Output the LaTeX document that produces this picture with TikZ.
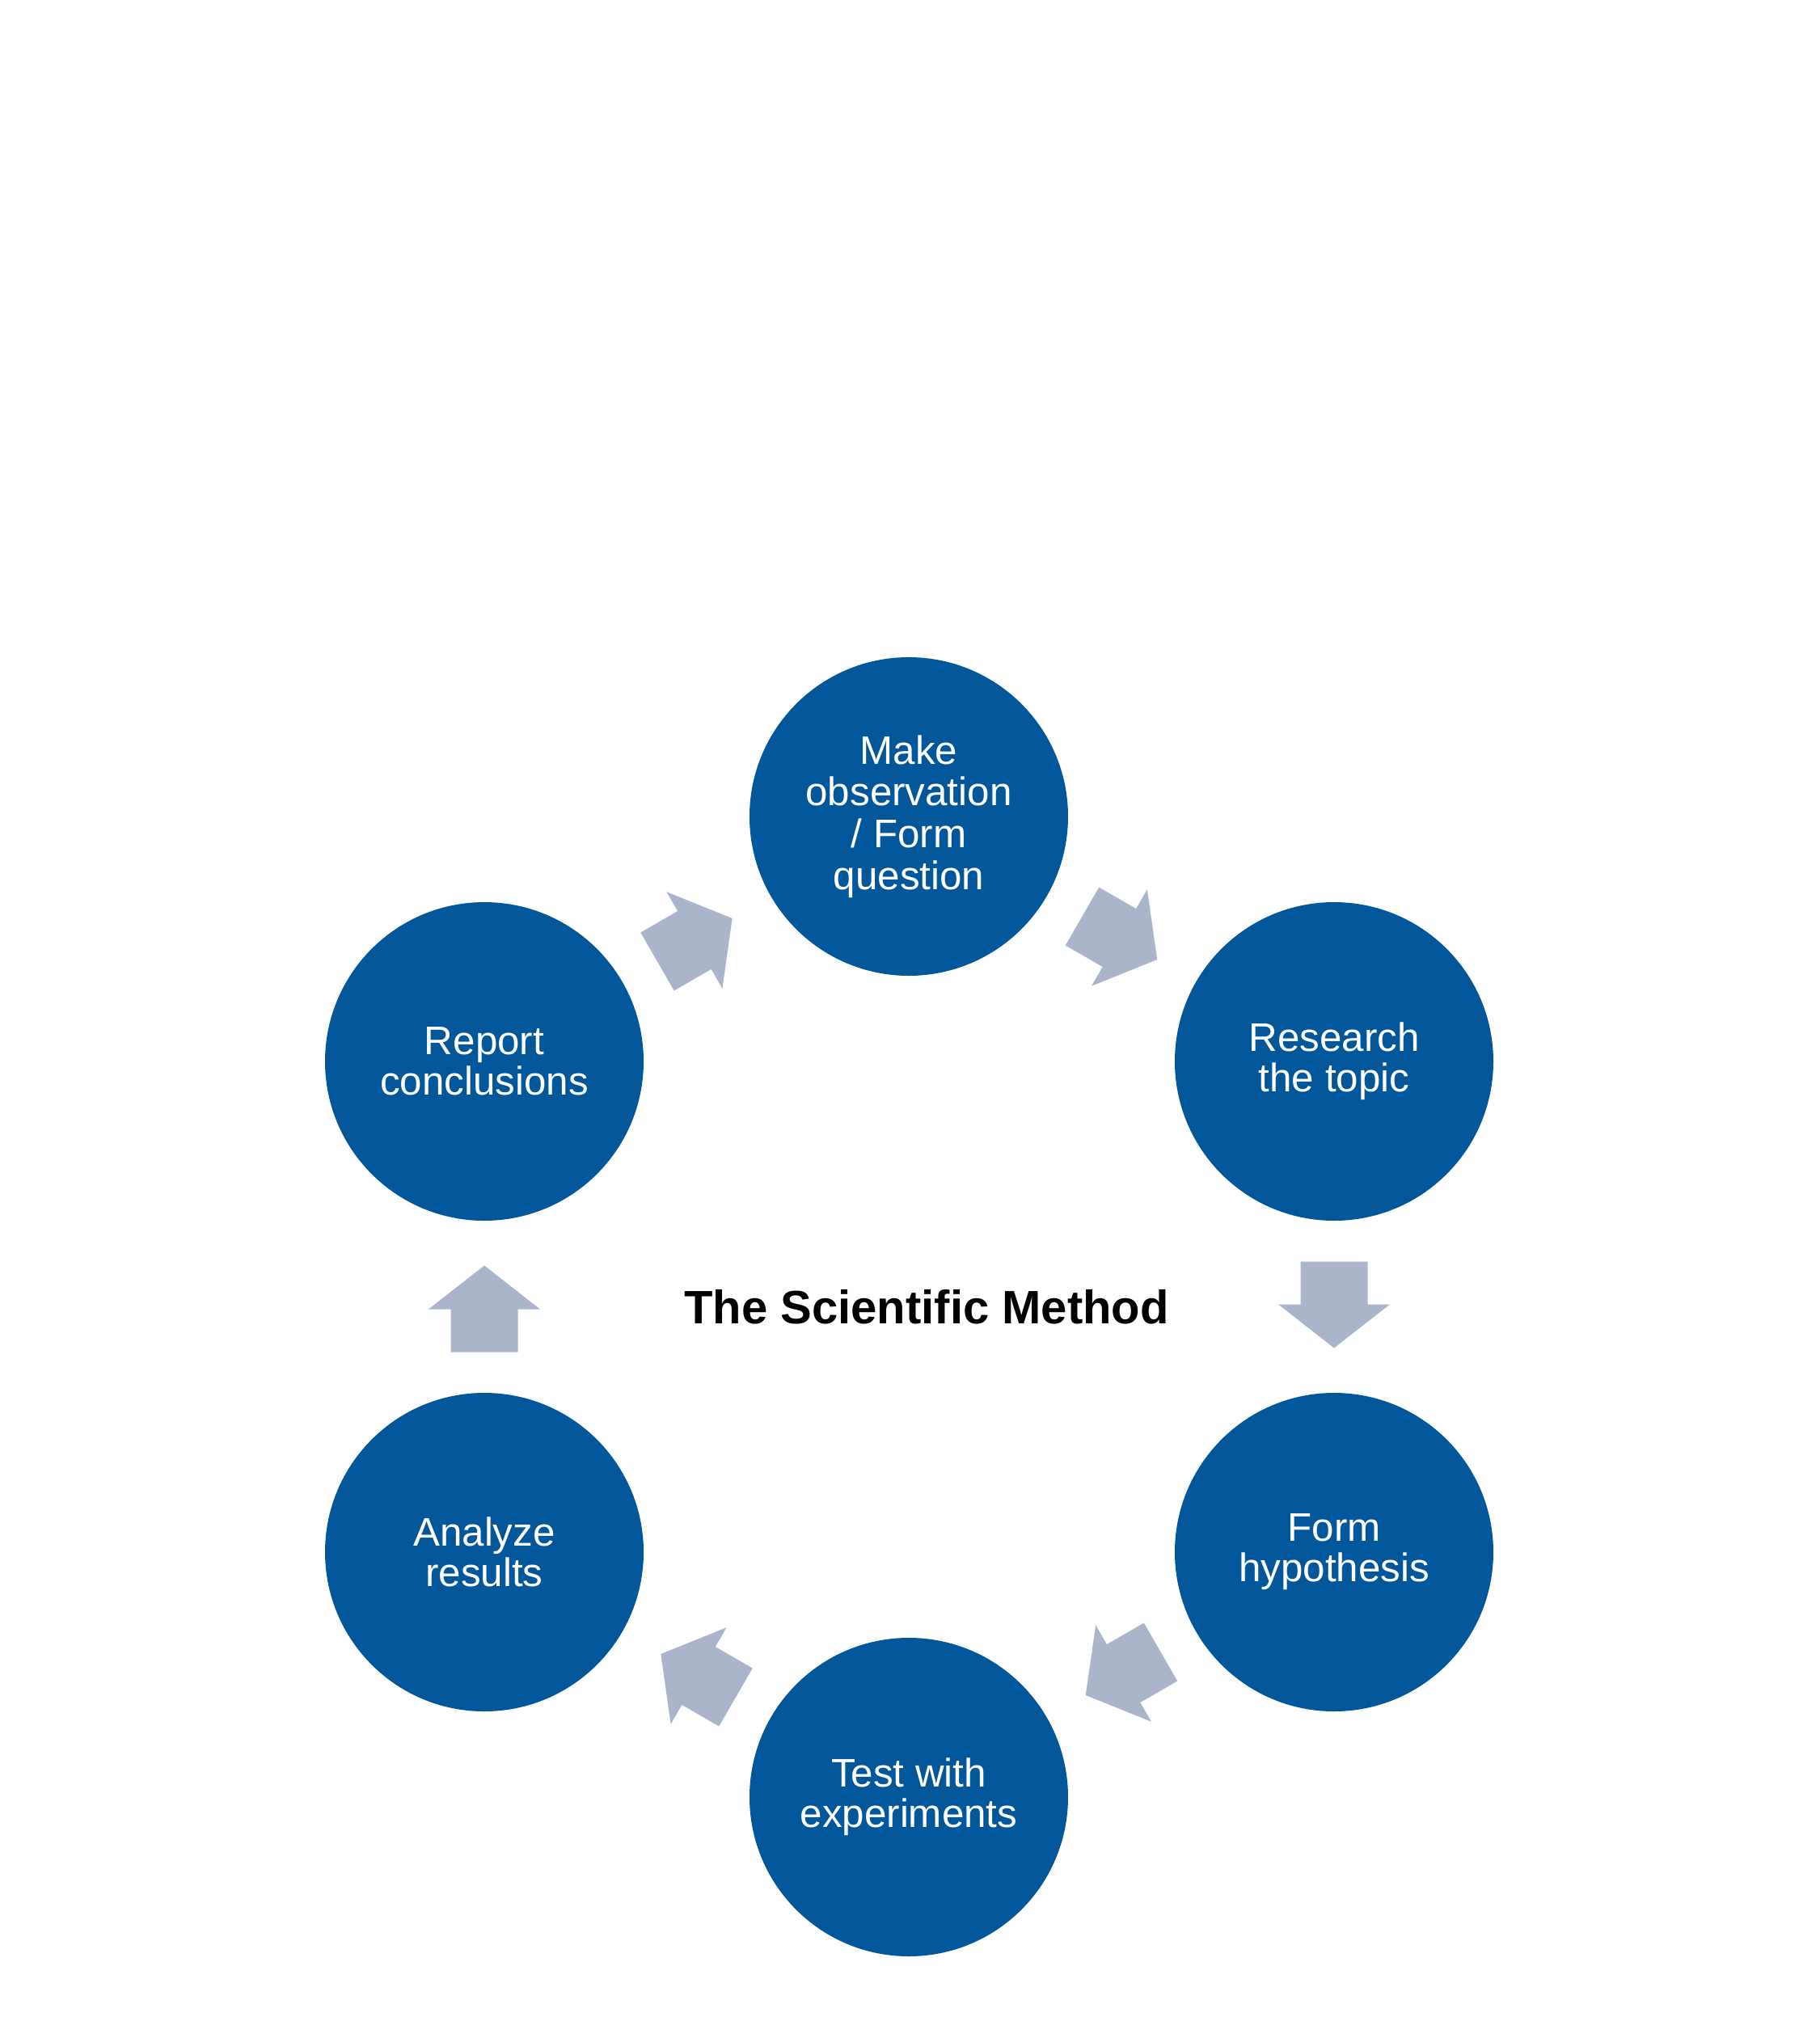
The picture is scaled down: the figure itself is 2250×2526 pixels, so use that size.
\documentclass[tikz,border=0pt]{standalone}
\usepackage{fontspec}
\setmainfont{Liberation Sans}
\usetikzlibrary{calc}
\definecolor{cblue}{RGB}{2,87,155}
\definecolor{carrow}{RGB}{170,181,203}
\tikzset{
  stepcircle/.style={circle, fill=cblue, text=white, minimum size=118.2pt, inner sep=0pt,
    align=center, font=\fontsize{14.8}{15}\selectfont},
  titletext/.style={text=black, inner sep=0pt, font=\fontsize{17.4}{20}\selectfont\bfseries},
  blockarrow/.pic={\fill[carrow] (-56,-41.5) -- (-3,-41.5) -- (-3,-69) -- (51,0) -- (-3,69) -- (-3,41.5) -- (-56,41.5) -- cycle;}
}
\begin{document}
\begin{tikzpicture}[x=0.3pt,y=-0.3pt]
\useasboundingbox (0,0) rectangle (2250,2526);
\node[stepcircle, font=\fontsize{14.8}{15.5}\selectfont] (top) at (1124,1010) {Make\\observation\\/ Form\\question};
\node[stepcircle] (ru) at (1650,1313) {Research\\the topic};
\node[stepcircle] (rl) at (1650,1920) {Form\\hypothesis};
\node[stepcircle] (bot) at (1124,2223) {Test with\\experiments};
\node[stepcircle] (ll) at (599,1920) {Analyze\\results};
\node[stepcircle] (lu) at (599,1313) {Report\\conclusions};
\node[titletext] (title) at (1146,1617) {The Scientific Method};
\foreach \a/\b in {top/ru, ru/rl, rl/bot, bot/ll, ll/lu, lu/top} {
  \path let \p1=($(\b)-(\a)$), \n1={atan2(\y1,\x1)} in
    pic[rotate=\n1] at ($(\a)!0.5!(\b)$) {blockarrow};
}
\end{tikzpicture}
\end{document}
